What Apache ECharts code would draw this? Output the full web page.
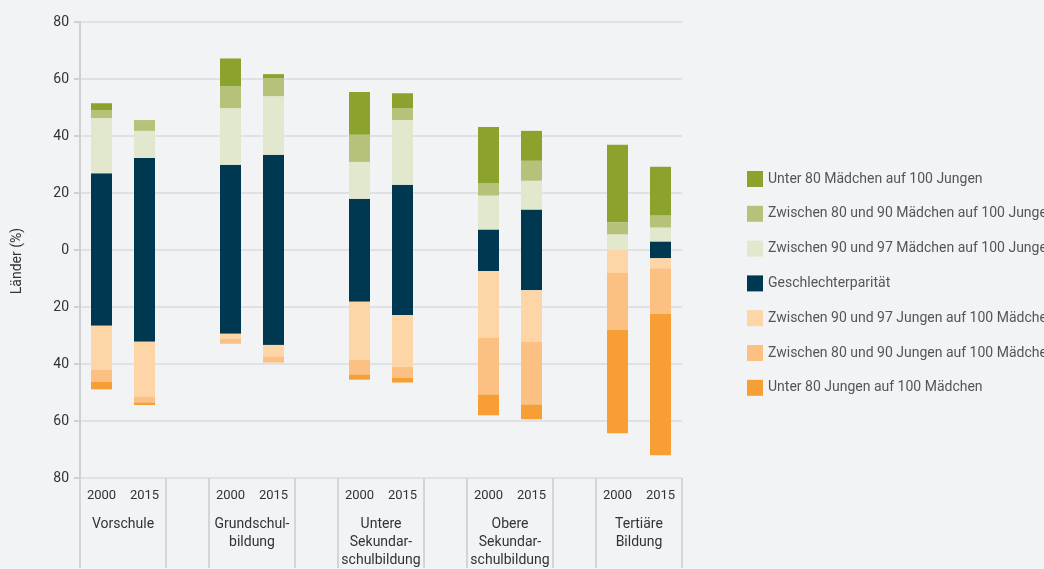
<!DOCTYPE html>
<html>
<head>
<meta charset="utf-8">
<script src="https://cdn.jsdelivr.net/npm/echarts@6/dist/echarts.min.js"></script>
<style>
  html, body { margin: 0; padding: 0; background: #f2f3f5; }
  #chart { width: 1044px; height: 569px; }
</style>
</head>
<body>
<div id="chart"></div>
<script>
// Jahre je Bildungsstufe, leere Spalte als Abstand
var years = ['2000', '2015', '', '2000', '2015', '', '2000', '2015', '', '2000', '2015', '', '2000', '2015']
var groupNames = ['Vorschule', 'Grundschul-\nbildung', 'Untere\nSekundar-\nschulbildung', 'Obere\nSekundar-\nschulbildung', 'Tertiäre\nBildung']
var yTicks = [-80, -60, -40, -20, 0, 20, 40, 60, 80]

// Anteile über der Nulllinie (Mädchen benachteiligt)
var paritaetOben = [26.9, 32.3, null, 29.9, 33.4, null, 18.0, 22.9, null, 7.2, 14.2, null, 0, 3.0]
var maedchen90bis97 = [19.4, 9.5, null, 19.9, 20.6, null, 12.9, 22.7, null, 11.9, 10.1, null, 5.5, 4.9]
var maedchen80bis90 = [2.8, 3.8, null, 7.7, 6.3, null, 9.5, 4.2, null, 4.2, 7.0, null, 4.2, 4.2]
var maedchenUnter80 = [2.4, 0, null, 9.7, 1.4, null, 15.0, 5.2, null, 19.9, 10.5, null, 27.2, 17.1]

// Anteile unter der Nulllinie (Jungen benachteiligt)
var paritaetUnten = [-26.6, -32.2, null, -29.4, -33.3, null, -18.2, -22.8, null, -7.4, -14.1, null, 0, -2.9]
var jungen90bis97 = [-15.4, -19.2, null, -1.8, -4.1, null, -20.3, -18.1, null, -23.4, -18.1, null, -8.1, -3.5]
var jungen80bis90 = [-4.2, -2.1, null, -1.7, -2.1, null, -5.2, -3.9, null, -19.9, -22.0, null, -19.9, -16.0]
var jungenUnter80 = [-2.7, -0.9, null, 0, 0, null, -1.8, -1.7, null, -7.3, -5.2, null, -36.3, -49.6]

var names = [
  'Unter 80 Mädchen auf 100 Jungen',
  'Zwischen 80 und 90 Mädchen auf 100 Jungen',
  'Zwischen 90 und 97 Mädchen auf 100 Jungen',
  'Geschlechterparität',
  'Zwischen 90 und 97 Jungen auf 100 Mädchen',
  'Zwischen 80 und 90 Jungen auf 100 Mädchen',
  'Unter 80 Jungen auf 100 Mädchen'
]
var colors = ['#8ba32d', '#b6c27a', '#e2e8cd', '#003852', '#fdd5a7', '#fcc082', '#f79e35']

// Hilfsachse: halbe Spalten, Beschriftung mittig zwischen 2000 und 2015
var halfSlots = []
for (var i = 0; i <= years.length * 2; i++) halfSlots.push('')
groupNames.forEach(function(g, k) { halfSlots[2 + k * 6] = g })
var dividers = [0, 4, 6, 10, 12, 16, 18, 22, 24, 28]

var font = 'Roboto, "Noto Sans", sans-serif'

function bar(name, data, color) {
  return {
    name: name,
    type: 'bar',
    stack: 'gesamt',
    barWidth: 21,
    data: data,
    itemStyle: { color: color },
    emphasis: { disabled: true }
  }
}

var chart = echarts.init(document.getElementById('chart'))
var option = {
  backgroundColor: '#f2f3f5',
  animation: false,
  textStyle: { fontFamily: font },
  legend: {
    orient: 'vertical',
    left: 742,
    top: 166,
    itemWidth: 16,
    itemHeight: 16,
    itemGap: 18.8,
    icon: 'rect',
    selectedMode: false,
    textStyle: { color: '#555', fontSize: 14, fontFamily: font },
    data: names
  },
  grid: { left: 80, right: 362, top: 22, bottom: 88 },
  xAxis: [
    {
      type: 'category',
      data: years,
      position: 'bottom',
      axisLine: { show: false },
      axisTick: { show: false },
      axisLabel: { interval: 0, margin: 11, color: '#333', fontSize: 13, fontFamily: font }
    },
    {
      type: 'category',
      data: halfSlots,
      boundaryGap: false,
      position: 'bottom',
      axisLine: { show: false },
      axisTick: {
        show: true,
        length: 90,
        interval: function(index) { return dividers.indexOf(index) >= 0 },
        lineStyle: { color: '#d4d5d7', width: 2 }
      },
      axisLabel: { interval: 0, margin: 37, color: '#333', fontSize: 14, lineHeight: 18, fontFamily: font, align: 'center' }
    }
  ],
  yAxis: {
    type: 'value',
    min: -80,
    max: 80,
    interval: 20,
    name: 'Länder (%)',
    nameLocation: 'middle',
    nameGap: 56,
    nameRotate: 90,
    nameTextStyle: { color: '#333', fontSize: 14, fontFamily: font, padding: [0, 0, 0, -22] },
    axisLine: { show: true, lineStyle: { color: '#cfd0d2', width: 2 } },
    axisTick: { show: true, length: 6, lineStyle: { color: '#cfd0d2', width: 2 } },
    axisLabel: {
      color: '#333',
      fontSize: 14,
      margin: 11,
      fontFamily: font,
      formatter: function(v) { return yTicks.indexOf(v) >= 0 ? String(Math.abs(v)) : '' }
    },
    splitLine: { show: true, lineStyle: { color: '#e0e1e3', width: 2 } }
  },
  series: [
    bar(names[3], paritaetOben, colors[3]),
    bar(names[2], maedchen90bis97, colors[2]),
    bar(names[1], maedchen80bis90, colors[1]),
    bar(names[0], maedchenUnter80, colors[0]),
    bar(names[3], paritaetUnten, colors[3]),
    bar(names[4], jungen90bis97, colors[4]),
    bar(names[5], jungen80bis90, colors[5]),
    bar(names[6], jungenUnter80, colors[6])
  ]
}
chart.setOption(option)
</script>
</body>
</html>
